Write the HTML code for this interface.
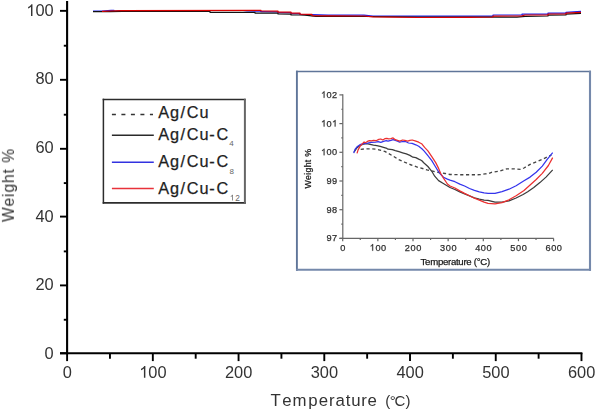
<!DOCTYPE html>
<html><head><meta charset="utf-8"><style>
html,body{margin:0;padding:0;background:#fff;}
body{width:597px;height:410px;position:relative;overflow:hidden;font-family:"Liberation Sans",sans-serif;}
</style></head><body>
<svg width="597" height="410" viewBox="0 0 597 410" style="position:absolute;left:0;top:0">
<rect width="597" height="410" fill="#fff"/>
<defs><filter id="nop" x="-5%" y="-5%" width="110%" height="110%"><feOffset dx="0" dy="0"/></filter></defs>
<g stroke="#000" fill="none">
<line x1="67.1" y1="1" x2="67.1" y2="354.3" stroke-width="2.1"/>
<line x1="60" y1="353.3" x2="582.4" y2="353.3" stroke-width="2"/>
<line x1="60" y1="10.85" x2="67" y2="10.85" stroke-width="1.9"/>
<line x1="60" y1="79.8" x2="67" y2="79.8" stroke-width="1.9"/>
<line x1="60" y1="148.8" x2="67" y2="148.8" stroke-width="1.9"/>
<line x1="60" y1="216.6" x2="67" y2="216.6" stroke-width="1.9"/>
<line x1="60" y1="285.4" x2="67" y2="285.4" stroke-width="1.9"/>
<line x1="60" y1="353.3" x2="67" y2="353.3" stroke-width="1.9"/>
<line x1="63.8" y1="45.72" x2="67" y2="45.72" stroke-width="1.9"/>
<line x1="63.8" y1="114.70" x2="67" y2="114.70" stroke-width="1.9"/>
<line x1="63.8" y1="183.10" x2="67" y2="183.10" stroke-width="1.9"/>
<line x1="63.8" y1="251.40" x2="67" y2="251.40" stroke-width="1.9"/>
<line x1="63.8" y1="319.75" x2="67" y2="319.75" stroke-width="1.9"/>
<line x1="67.10" y1="353" x2="67.10" y2="361.1" stroke-width="1.9"/>
<line x1="152.83" y1="353" x2="152.83" y2="361.1" stroke-width="1.9"/>
<line x1="238.56" y1="353" x2="238.56" y2="361.1" stroke-width="1.9"/>
<line x1="324.29" y1="353" x2="324.29" y2="361.1" stroke-width="1.9"/>
<line x1="410.02" y1="353" x2="410.02" y2="361.1" stroke-width="1.9"/>
<line x1="495.75" y1="353" x2="495.75" y2="361.1" stroke-width="1.9"/>
<line x1="581.48" y1="353" x2="581.48" y2="361.1" stroke-width="1.9"/>
<line x1="109.96" y1="353" x2="109.96" y2="358.7" stroke-width="1.9"/>
<line x1="195.69" y1="353" x2="195.69" y2="358.7" stroke-width="1.9"/>
<line x1="281.42" y1="353" x2="281.42" y2="358.7" stroke-width="1.9"/>
<line x1="367.15" y1="353" x2="367.15" y2="358.7" stroke-width="1.9"/>
<line x1="452.88" y1="353" x2="452.88" y2="358.7" stroke-width="1.9"/>
<line x1="538.62" y1="353" x2="538.62" y2="358.7" stroke-width="1.9"/>
</g>
<g font-family="Liberation Sans, sans-serif" filter="url(#nop)">
<path d="M32.45 15.90 L31.01 15.90 L31.01 6.72 C30.67 7.04 30.21 7.38 29.64 7.71 C29.08 8.04 28.57 8.28 28.12 8.45 L28.12 7.06 C28.90 6.70 29.58 6.26 30.16 5.75 C30.73 5.23 31.15 4.69 31.39 4.16 L32.45 4.16Z" fill="#333"/>
<text x="35.46 44.58" y="15.90" font-size="16.4" fill="#333">00</text>
<text x="35.46 44.58" y="84.00" font-size="16.4" fill="#333">80</text>
<text x="35.46 44.58" y="152.70" font-size="16.4" fill="#333">60</text>
<text x="35.46 44.58" y="221.70" font-size="16.4" fill="#333">40</text>
<text x="35.46 44.58" y="289.80" font-size="16.4" fill="#333">20</text>
<text x="44.58" y="358.50" font-size="16.4" fill="#333">0</text>
<text x="62.64" y="377.70" font-size="16.4" fill="#333">0</text>
<path d="M145.36 377.70 L143.92 377.70 L143.92 368.52 C143.58 368.84 143.12 369.18 142.55 369.51 C141.98 369.84 141.48 370.08 141.03 370.25 L141.03 368.86 C141.81 368.50 142.49 368.06 143.06 367.55 C143.64 367.03 144.06 366.49 144.30 365.96 L145.36 365.96Z" fill="#333"/>
<text x="148.37 157.49" y="377.70" font-size="16.4" fill="#333">00</text>
<text x="224.98 234.10 243.22" y="377.70" font-size="16.4" fill="#333">200</text>
<text x="310.71 319.83 328.95" y="377.70" font-size="16.4" fill="#333">300</text>
<text x="396.44 405.56 414.68" y="377.70" font-size="16.4" fill="#333">400</text>
<text x="482.17 491.29 500.41" y="377.70" font-size="16.4" fill="#333">500</text>
<text x="567.90 577.02 586.14" y="377.70" font-size="16.4" fill="#333">600</text>
</g>
<text filter="url(#nop)" transform="translate(13.9,185.5) rotate(-90)" font-family="Liberation Sans, sans-serif" font-size="15.6" fill="#333" text-anchor="middle" textLength="73" lengthAdjust="spacing">Weight %</text>
<text filter="url(#nop)" x="270.62 282.29 292.58 308.32 318.79 328.88 335.39 345.75 351.21 361.18 367.39" y="405.8" font-family="Liberation Sans, sans-serif" font-size="16.8" fill="#333">Temperature</text>
<text filter="url(#nop)" x="385.3" y="405.6" font-family="Liberation Sans, sans-serif" font-size="15" fill="#333">(<tspan dx="-0.6">°</tspan><tspan dx="-1.3">C</tspan><tspan dx="0.2">)</tspan></text>
<rect x="103.5" y="99.5" width="141.3" height="103.3" fill="#fff"/>
<line x1="102.7" y1="99.4" x2="245.6" y2="99.4" stroke="#2c2c2c" stroke-width="1.5"/>
<line x1="103.4" y1="98.7" x2="103.4" y2="203.7" stroke="#2c2c2c" stroke-width="1.5"/>
<line x1="102.7" y1="202.9" x2="245.9" y2="202.9" stroke="#2c2c2c" stroke-width="1.6"/>
<line x1="244.9" y1="98.7" x2="244.9" y2="203.7" stroke="#666" stroke-width="2"/>
<line x1="111.9" y1="114.45" x2="153" y2="114.45" stroke="#333" stroke-width="1.4" stroke-dasharray="4,5.5"/>
<line x1="111.9" y1="135.2" x2="153.8" y2="135.2" stroke="#2a2a2a" stroke-width="1.4"/>
<line x1="111.9" y1="162.3" x2="153.8" y2="162.3" stroke="#3232e0" stroke-width="1.5"/>
<line x1="111.9" y1="188.4" x2="153.8" y2="188.4" stroke="#e8323a" stroke-width="1.5"/>
<g font-family="Liberation Sans, sans-serif" font-size="16.3" fill="#1e1e1e" stroke="#1e1e1e" stroke-width="0.25">
<text x="158.27 169.92 180.50 186.67 199.54" y="118.4">Ag/Cu</text>
<text x="158.27 169.92 180.50 186.67 199.54 209.28 216.47" y="139.6">Ag/Cu-C</text>
<text x="158.27 169.92 180.50 186.67 199.54 209.28 216.47" y="166.7">Ag/Cu-C</text>
<text x="158.27 169.92 180.50 186.67 199.54 209.28 216.47" y="193.5">Ag/Cu-C</text>
</g>
<g font-family="Liberation Sans, sans-serif">
<text x="229.20" y="146.10" font-size="8.0" fill="#666">4</text>
<text x="229.40" y="174.00" font-size="8.0" fill="#666">8</text>
<path d="M232.89 200.60 L232.16 200.60 L232.16 195.95 C231.99 196.12 231.76 196.29 231.47 196.45 C231.18 196.62 230.93 196.75 230.70 196.83 L230.70 196.13 C231.09 195.94 231.44 195.72 231.73 195.46 C232.02 195.20 232.23 194.93 232.35 194.66 L232.89 194.66Z" fill="#666"/>
<text x="235.21" y="200.60" font-size="8.3" fill="#666">2</text>
</g>
<polyline points="362.00,16.40 376.00,16.50" fill="none" stroke="#222" stroke-width="1.1" stroke-linejoin="round" stroke-dasharray="3,2"/>
<polyline points="93.00,11.20 102.00,11.20 111.00,10.40 114.00,10.40 114.00,11.00 122.00,10.50 243.00,10.50 247.00,11.00 260.00,11.10 261.00,11.70 278.00,11.80 278.00,12.70 291.00,12.70 291.00,13.60 300.00,13.70 300.00,14.50 312.00,14.70 328.00,15.20 364.00,15.20 373.00,16.10 493.00,16.10 493.00,15.00 522.00,15.00 522.00,14.10 548.00,14.10 548.00,13.10 566.00,13.10 566.00,12.30 581.00,11.30" fill="none" stroke="#2020e8" stroke-width="1.2" stroke-linejoin="round"/>
<polyline points="93.00,11.60 110.00,11.60 122.00,11.40 210.00,11.40 210.00,12.30 255.00,12.40 255.00,13.10 261.00,13.10 278.00,13.20 278.00,14.00 291.00,14.10 291.00,14.90 300.00,15.00 305.00,15.20 316.00,16.30 328.00,16.40 364.00,16.50 418.00,17.00 458.00,17.00 501.00,17.20 517.00,17.20 525.00,16.40 548.00,16.00 548.00,15.20 566.00,15.00 566.00,14.20 581.00,13.40" fill="none" stroke="#111" stroke-width="1.2" stroke-linejoin="round"/>
<polyline points="102.00,11.40 110.00,11.00 122.00,10.60 255.00,10.40 261.00,10.40 261.00,11.00 278.00,11.10 278.00,12.20 291.00,12.20 291.00,13.20 300.00,13.20 300.00,14.20 312.00,14.40 312.00,15.70 328.00,15.90 364.00,16.00 373.00,16.90 418.00,17.50 470.00,17.40 493.00,17.00 493.00,16.10 522.00,15.90 525.00,15.00 548.00,15.00 548.00,14.00 566.00,14.00 566.00,13.10 581.00,12.30" fill="none" stroke="#dc0000" stroke-width="1.2" stroke-linejoin="round"/>
<rect x="297" y="72" width="293" height="198" fill="#fff"/>
<g fill="none">
<line x1="296" y1="71.5" x2="591" y2="71.5" stroke="#5f7599" stroke-width="1.7"/>
<line x1="296.9" y1="70.7" x2="296.9" y2="270.8" stroke="#5f7599" stroke-width="1.9"/>
<line x1="590" y1="70.7" x2="590" y2="270.8" stroke="#7589ab" stroke-width="2.1"/>
<line x1="296" y1="269.8" x2="591" y2="269.8" stroke="#7589ab" stroke-width="2.1"/>
</g>
<g stroke="#666" fill="none" stroke-width="1.2">
<line x1="342.8" y1="94.3" x2="342.8" y2="238.5"/>
<line x1="339.4" y1="238.4" x2="553.8" y2="238.4"/>
<line x1="339.4" y1="238.40" x2="342.8" y2="238.40"/>
<line x1="339.4" y1="209.70" x2="342.8" y2="209.70"/>
<line x1="339.4" y1="181.00" x2="342.8" y2="181.00"/>
<line x1="339.4" y1="152.30" x2="342.8" y2="152.30"/>
<line x1="339.4" y1="123.60" x2="342.8" y2="123.60"/>
<line x1="339.4" y1="94.90" x2="342.8" y2="94.90"/>
<line x1="341.3" y1="224.05" x2="342.8" y2="224.05"/>
<line x1="341.3" y1="195.35" x2="342.8" y2="195.35"/>
<line x1="341.3" y1="166.65" x2="342.8" y2="166.65"/>
<line x1="341.3" y1="137.95" x2="342.8" y2="137.95"/>
<line x1="341.3" y1="109.25" x2="342.8" y2="109.25"/>
<line x1="342.70" y1="238.4" x2="342.70" y2="241.2"/>
<line x1="377.85" y1="238.4" x2="377.85" y2="241.2"/>
<line x1="413.00" y1="238.4" x2="413.00" y2="241.2"/>
<line x1="448.15" y1="238.4" x2="448.15" y2="241.2"/>
<line x1="483.30" y1="238.4" x2="483.30" y2="241.2"/>
<line x1="518.45" y1="238.4" x2="518.45" y2="241.2"/>
<line x1="553.60" y1="238.4" x2="553.60" y2="241.2"/>
<line x1="360.27" y1="238.4" x2="360.27" y2="240"/>
<line x1="395.42" y1="238.4" x2="395.42" y2="240"/>
<line x1="430.57" y1="238.4" x2="430.57" y2="240"/>
<line x1="465.72" y1="238.4" x2="465.72" y2="240"/>
<line x1="500.88" y1="238.4" x2="500.88" y2="240"/>
<line x1="536.02" y1="238.4" x2="536.02" y2="240"/>
</g>
<defs><filter id="bl" x="-10%" y="-10%" width="120%" height="120%"><feGaussianBlur stdDeviation="0.35"/></filter></defs>
<g font-family="Liberation Sans, sans-serif" stroke="#333" stroke-width="0.25" filter="url(#bl)">
<text x="326.57 332.08" y="241.35" font-size="9.2" fill="#2a2a2a">97</text>
<text x="326.57 332.08" y="212.65" font-size="9.2" fill="#2a2a2a">98</text>
<text x="326.57 332.08" y="183.95" font-size="9.2" fill="#2a2a2a">99</text>
<path d="M324.48 155.25 L323.67 155.25 L323.67 150.10 C323.48 150.28 323.22 150.47 322.91 150.65 C322.59 150.84 322.30 150.98 322.05 151.07 L322.05 150.29 C322.49 150.09 322.87 149.84 323.19 149.55 C323.52 149.27 323.75 148.96 323.88 148.66 L324.48 148.66Z" fill="#2a2a2a"/>
<text x="326.57 332.08" y="155.25" font-size="9.2" fill="#2a2a2a">00</text>
<path d="M324.48 126.55 L323.67 126.55 L323.67 121.40 C323.48 121.58 323.22 121.77 322.91 121.95 C322.59 122.14 322.30 122.28 322.05 122.37 L322.05 121.59 C322.49 121.39 322.87 121.14 323.19 120.85 C323.52 120.57 323.75 120.26 323.88 119.96 L324.48 119.96Z" fill="#2a2a2a"/>
<path d="M335.51 126.55 L334.70 126.55 L334.70 121.40 C334.51 121.58 334.25 121.77 333.94 121.95 C333.62 122.14 333.33 122.28 333.08 122.37 L333.08 121.59 C333.52 121.39 333.90 121.14 334.22 120.85 C334.55 120.57 334.78 120.26 334.91 119.96 L335.51 119.96Z" fill="#2a2a2a"/>
<text x="326.57" y="126.55" font-size="9.2" fill="#2a2a2a">0</text>
<path d="M324.48 97.85 L323.67 97.85 L323.67 92.70 C323.48 92.88 323.22 93.07 322.91 93.25 C322.59 93.44 322.30 93.58 322.05 93.67 L322.05 92.89 C322.49 92.69 322.87 92.44 323.19 92.15 C323.52 91.87 323.75 91.56 323.88 91.26 L324.48 91.26Z" fill="#2a2a2a"/>
<text x="326.57 332.08" y="97.85" font-size="9.2" fill="#2a2a2a">02</text>
<text x="340.24" y="250.70" font-size="9.2" fill="#2a2a2a">0</text>
<path d="M373.10 250.70 L372.30 250.70 L372.30 245.55 C372.10 245.73 371.85 245.92 371.53 246.10 C371.21 246.29 370.93 246.43 370.67 246.52 L370.67 245.74 C371.11 245.54 371.49 245.29 371.82 245.00 C372.14 244.72 372.37 244.41 372.51 244.11 L373.10 244.11Z" fill="#2a2a2a"/>
<text x="375.39 381.11" y="250.70" font-size="9.2" fill="#2a2a2a">00</text>
<text x="404.83 410.54 416.26" y="250.70" font-size="9.2" fill="#2a2a2a">200</text>
<text x="439.98 445.69 451.41" y="250.70" font-size="9.2" fill="#2a2a2a">300</text>
<text x="475.13 480.84 486.56" y="250.70" font-size="9.2" fill="#2a2a2a">400</text>
<text x="510.28 515.99 521.71" y="250.70" font-size="9.2" fill="#2a2a2a">500</text>
<text x="545.43 551.14 556.86" y="250.70" font-size="9.2" fill="#2a2a2a">600</text>
<text transform="translate(310.6,168.5) rotate(-90)" font-size="8.8" text-anchor="middle" letter-spacing="0.3">Weight %</text>
<text x="420.6" y="265.3" font-size="9.6" textLength="69.5" lengthAdjust="spacing">Temperature (°C)</text>
</g>
<polyline points="360.70,149.40 364.00,149.00 368.80,148.80 372.00,148.80 375.50,149.10 378.80,149.80 381.50,150.40 384.80,151.40 388.00,153.20 393.10,156.10 398.20,159.40 404.10,162.00 410.00,164.50 418.50,167.50 424.00,168.90 427.00,169.90 432.80,171.10 440.00,172.80 445.00,173.50 450.00,174.50 465.00,174.80 480.00,174.70 485.10,173.90 489.00,173.40 491.50,172.30 499.70,171.10 506.70,168.80 513.70,168.80 520.70,169.40 524.00,168.00 530.10,164.30 536.20,161.90 542.30,159.40 547.20,157.00 551.40,155.10" fill="none" stroke="#444" stroke-width="1.35" stroke-linejoin="round" stroke-dasharray="3.2,2.6"/>
<polyline points="354.00,152.10 356.70,148.10 360.00,145.40 363.40,144.10 366.80,143.70 370.10,144.40 373.50,145.10 376.80,145.70 380.20,146.40 383.50,147.40 386.90,148.40 388.00,149.20 392.40,149.60 395.30,150.60 399.00,151.70 402.60,152.80 406.30,153.90 409.90,155.40 412.90,157.20 415.80,157.60 418.70,159.10 421.60,160.50 424.00,163.00 427.90,166.50 431.80,171.30 434.70,176.20 438.60,180.60 442.50,183.00 450.00,187.50 454.90,189.50 459.80,191.90 464.60,193.90 469.50,195.80 474.40,197.80 479.30,199.20 484.10,200.20 488.00,200.40 495.00,202.10 502.00,202.10 509.00,200.90 516.10,198.00 523.10,194.50 527.70,191.70 533.80,187.50 539.90,182.60 546.00,177.10 552.70,169.80" fill="none" stroke="#3c3c3c" stroke-width="1.25" stroke-linejoin="round"/>
<polyline points="353.70,153.10 355.00,149.40 357.40,146.40 360.00,144.70 363.40,143.70 367.40,143.10 371.40,142.40 375.50,142.10 378.10,141.70 380.80,142.40 383.50,141.40 386.20,140.70 388.00,141.10 390.90,140.40 393.10,139.70 395.30,140.40 397.50,141.10 399.70,142.20 402.60,141.50 405.60,141.50 408.50,143.00 412.10,143.30 415.80,144.80 418.70,146.30 421.60,148.50 424.00,150.90 427.90,155.70 431.80,160.60 434.70,165.50 437.70,170.40 440.60,174.30 443.50,177.20 447.40,179.10 450.00,180.20 454.90,181.70 459.80,184.10 464.60,186.00 469.50,188.50 474.40,190.40 479.30,191.90 484.10,192.90 488.00,193.30 495.00,193.30 502.00,191.60 509.00,189.20 516.10,185.70 524.00,180.80 530.10,177.10 536.20,172.20 542.30,166.10 547.20,159.40 552.70,152.70" fill="none" stroke="#3434ec" stroke-width="1.25" stroke-linejoin="round"/>
<polyline points="357.00,153.40 358.00,150.10 360.00,146.40 362.00,144.10 364.10,142.00 365.40,142.70 367.40,141.40 369.40,140.70 371.40,140.90 373.50,140.40 376.10,140.70 378.80,139.40 380.80,139.00 382.80,140.00 384.80,138.70 386.90,138.40 388.50,138.90 390.90,138.60 393.10,137.90 395.30,139.70 397.50,140.40 399.70,141.10 402.60,140.00 404.80,140.40 407.70,141.10 409.90,140.40 412.10,140.00 415.10,140.80 418.70,142.20 421.60,143.70 424.60,147.40 427.90,150.90 431.80,156.70 435.70,162.60 438.60,168.40 440.60,173.30 443.50,178.20 447.40,184.00 450.00,186.00 454.90,188.00 459.80,190.90 464.60,193.40 469.50,195.80 474.40,198.20 479.30,200.20 484.10,202.10 488.00,203.30 495.00,203.90 502.00,202.70 509.00,199.80 516.10,195.70 524.00,190.50 530.10,185.00 536.20,179.50 542.30,173.40 548.40,165.50 552.70,157.60" fill="none" stroke="#ec3030" stroke-width="1.25" stroke-linejoin="round"/>
</svg>
</body></html>
